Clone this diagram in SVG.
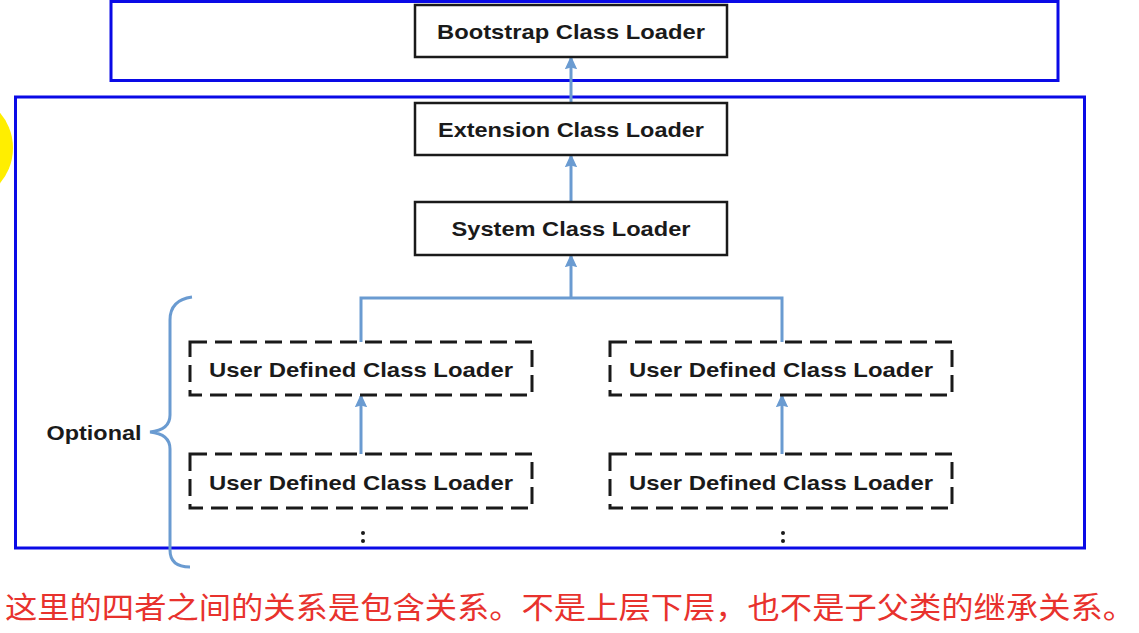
<svg xmlns="http://www.w3.org/2000/svg" width="1139" height="633" viewBox="0 0 1139 633">
<style>
.frame{fill:none;stroke:#0a0ae6;stroke-width:3}
.box{fill:#fff;stroke:#1a1a1a;stroke-width:2.5}
.dbox{fill:#fff;stroke:#1a1a1a;stroke-width:3;stroke-dasharray:17 8}
.lbl{font-family:"Liberation Sans",Arial,sans-serif;font-weight:bold;font-size:21px;fill:#1a1a1a;text-anchor:middle}
.conn{fill:none;stroke:#6a9bd1;stroke-width:3}
.dot{fill:#1a1a1a}
.note{font-family:"Noto Sans CJK SC",sans-serif;font-size:30px;fill:#e8322d}
</style>
<defs>
<marker id="arr" viewBox="0 0 12 12" refX="10" refY="6" markerWidth="4.5" markerHeight="4.5" orient="auto" markerUnits="strokeWidth">
<path d="M0,0.5 L12,6 L0,11.5 L1.5,6 Z" fill="#6a9bd1"/>
</marker>
</defs>
<rect width="1139" height="633" fill="#fff"/>
<circle cx="-41" cy="148" r="54" fill="#ffee00"/>
<rect class="frame" x="111" y="1.5" width="947" height="79"/>
<rect class="frame" x="15.5" y="97" width="1069" height="451"/>
<g id="connectors">
<line class="conn" x1="571" y1="103" x2="571" y2="58" marker-end="url(#arr)"/>
<line class="conn" x1="571" y1="202" x2="571" y2="156" marker-end="url(#arr)"/>
<line class="conn" x1="571" y1="298" x2="571" y2="256" marker-end="url(#arr)"/>
<polyline class="conn" points="361,342 361,298 782,298 782,342"/>
<line class="conn" x1="361" y1="454" x2="361" y2="396" marker-end="url(#arr)"/>
<line class="conn" x1="782" y1="454" x2="782" y2="396" marker-end="url(#arr)"/>
</g>
<g id="bootstrap">
<rect class="box" x="415" y="5" width="312" height="52"/>
<text class="lbl" x="571" y="39" textLength="268" lengthAdjust="spacingAndGlyphs">Bootstrap Class Loader</text>
</g>
<g id="extension">
<rect class="box" x="415" y="103" width="312" height="52"/>
<text class="lbl" x="571" y="137" textLength="266" lengthAdjust="spacingAndGlyphs">Extension Class Loader</text>
</g>
<g id="system">
<rect class="box" x="415" y="202" width="312" height="53"/>
<text class="lbl" x="571" y="236" textLength="239" lengthAdjust="spacingAndGlyphs">System Class Loader</text>
</g>
<g id="user-left-1">
<rect class="dbox" x="190" y="342" width="342" height="53"/>
<text class="lbl" x="361" y="377" textLength="304" lengthAdjust="spacingAndGlyphs">User Defined Class Loader</text>
</g>
<g id="user-left-2">
<rect class="dbox" x="190" y="454" width="342" height="54"/>
<text class="lbl" x="361" y="490" textLength="304" lengthAdjust="spacingAndGlyphs">User Defined Class Loader</text>
</g>
<g id="user-right-1">
<rect class="dbox" x="610" y="342" width="342" height="53"/>
<text class="lbl" x="781" y="377" textLength="304" lengthAdjust="spacingAndGlyphs">User Defined Class Loader</text>
</g>
<g id="user-right-2">
<rect class="dbox" x="610" y="454" width="342" height="54"/>
<text class="lbl" x="781" y="490" textLength="304" lengthAdjust="spacingAndGlyphs">User Defined Class Loader</text>
</g>
<g id="dots-left">
<circle class="dot" cx="363" cy="533" r="2"/>
<circle class="dot" cx="363" cy="541" r="2"/>
</g>
<g id="dots-right">
<circle class="dot" cx="783" cy="533" r="2"/>
<circle class="dot" cx="783" cy="541" r="2"/>
</g>
<g id="optional">
<path d="M192,297 Q170,300 170,320 L170,415 Q170,430 150,432 Q170,434 170,449 L170,550 Q170,567 190,567" fill="none" stroke="#6a9bd1" stroke-width="3"/>
<text class="lbl" x="94" y="440" textLength="95" lengthAdjust="spacingAndGlyphs">Optional</text>
</g>
<text class="note" x="5" y="618" textLength="1130" lengthAdjust="spacingAndGlyphs">这里的四者之间的关系是包含关系。不是上层下层，也不是子父类的继承关系。</text>
</svg>
